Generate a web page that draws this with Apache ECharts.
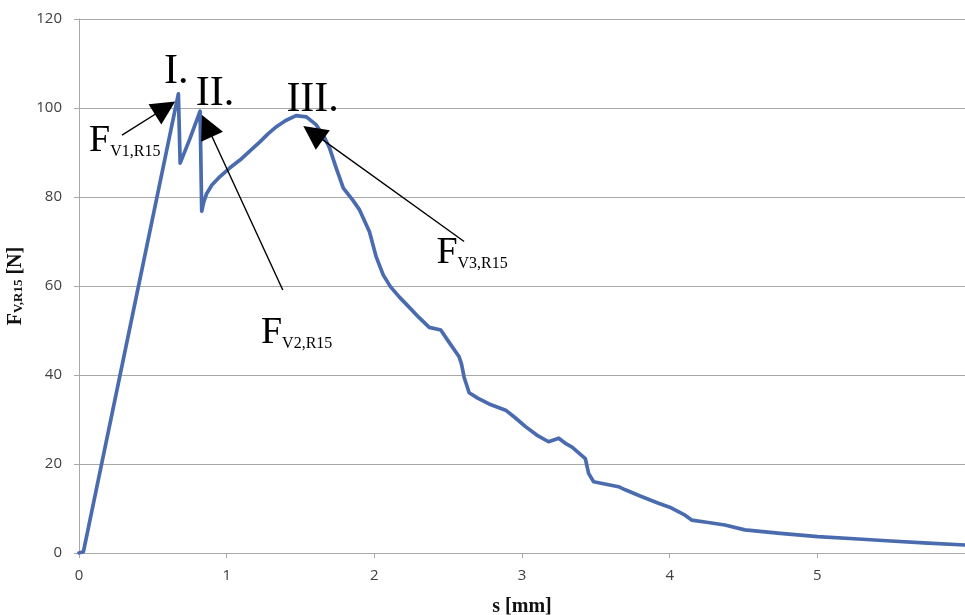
<!DOCTYPE html>
<html>
<head>
<meta charset="utf-8">
<title>F-s curve</title>
<script src="https://cdn.jsdelivr.net/npm/echarts@6/dist/echarts.min.js"></script>
<style>
  html, body { margin: 0; padding: 0; background: #ffffff; overflow: hidden; }
  #chart { width: 965px; height: 615px; }
</style>
</head>
<body>
<div id="chart"></div>
<script>
// Displacement s [mm] and force F [N] of the measured curve
const sValues = [
  0, 0.03, 0.673, 0.685, 0.75, 0.82, 0.831, 0.845, 0.865, 0.90, 0.955, 1.02, 1.09, 1.16,
  1.225, 1.28, 1.337, 1.40, 1.47, 1.54, 1.607, 1.66, 1.697, 1.742, 1.79, 1.854, 1.9,
  1.967, 2.012, 2.06, 2.11, 2.17, 2.237, 2.30, 2.372, 2.45, 2.495, 2.574, 2.59, 2.608,
  2.642, 2.70, 2.777, 2.889, 2.95, 3.024, 3.10, 3.18, 3.249, 3.30, 3.339, 3.429, 3.451,
  3.485, 3.654, 3.699, 3.8, 3.924, 4.0, 4.104, 4.149, 4.25, 4.374, 4.509, 4.75, 5.003,
  5.25, 5.498, 5.75, 6.0
];
const forceValues = [
  0, 0.3, 103.2, 87.6, 93.0, 99.3, 76.8, 78.9, 80.8, 82.7, 84.6, 86.5, 88.3, 90.4,
  92.4, 94.2, 95.8, 97.2, 98.3, 98.0, 96.2, 93.5, 91.0, 86.5, 82.0, 79.3, 77.1,
  72.2, 66.6, 62.5, 59.8, 57.5, 55.2, 53.0, 50.7, 50.1, 47.9, 44.1, 42.5, 39.5,
  36.0, 34.8, 33.5, 32.1, 30.5, 28.4, 26.5, 25.0, 25.8, 24.5, 23.8, 21.2, 17.9,
  16.0, 14.9, 14.2, 12.8, 11.2, 10.3, 8.5, 7.4, 6.9, 6.3, 5.2, 4.4, 3.7,
  3.2, 2.7, 2.2, 1.8
];

// Axis ranges and ticks
const xTicks = [0, 1, 2, 3, 4, 5, 6];
const yTicks = [0, 20, 40, 60, 80, 100, 120];

// Peak markers (label text and its anchor in data units)
const peakNames = ['I.', 'II.', 'III.'];
const peakAnchors = [[0.659, 108.1], [0.921, 103.1], [1.582, 101.8]];

// Force labels and the arrows from them to the peaks
const forceSubs = ['V1,R15', 'V2,R15', 'V3,R15'];
const forceAnchors = [[0.31, 92.8], [1.474, 49.7], [2.662, 67.6]];
const arrowTails = [[0.291, 93.9], [1.38, 59.1], [2.608, 70.0]];
const arrowHeads = [[0.583, 100.0], [0.867, 96.0], [1.585, 94.4]];

const curve = sValues.map((s, i) => [s, forceValues[i]]);

const serif = '"Liberation Serif", "DejaVu Serif", serif';
const sans = '"Open Sans", "Liberation Sans", sans-serif';
const gridColor = '#a8a8a8';

const chart = echarts.init(document.getElementById('chart'), null, { renderer: 'canvas' });

chart.setOption({
  animation: false,
  backgroundColor: '#ffffff',
  grid: { left: 79, right: 0, top: 19, bottom: 62, containLabel: false, outerBoundsMode: 'none' },
  xAxis: {
    type: 'value',
    min: xTicks[0],
    max: xTicks[xTicks.length - 1],
    interval: 1,
    name: 's [mm]',
    nameLocation: 'middle',
    nameGap: 44,
    nameTextStyle: { fontFamily: serif, fontWeight: 'bold', fontSize: 20, color: '#111' },
    axisLine: { show: true, lineStyle: { color: gridColor, width: 1 } },
    axisTick: { show: true, length: 5, inside: false, lineStyle: { color: gridColor } },
    axisLabel: {
      margin: 15,
      fontFamily: sans,
      fontSize: 15,
      color: '#404040',
      formatter: v => (v === xTicks[xTicks.length - 1] ? '' : String(v))
    },
    splitLine: { show: false }
  },
  yAxis: {
    type: 'value',
    min: yTicks[0],
    max: yTicks[yTicks.length - 1],
    interval: 20,
    name: '{F|F}{sub|V,R15}{N| [N]}',
    nameLocation: 'middle',
    nameRotate: 90,
    nameGap: 49,
    nameTextStyle: {
      rich: {
        F: { fontFamily: serif, fontWeight: 'bold', fontSize: 20, color: '#111', verticalAlign: 'bottom', lineHeight: 22 },
        sub: { fontFamily: serif, fontWeight: 'bold', fontSize: 13, color: '#111', verticalAlign: 'bottom', lineHeight: 18 },
        N: { fontFamily: serif, fontWeight: 'bold', fontSize: 20, color: '#111', verticalAlign: 'bottom', lineHeight: 22 }
      }
    },
    axisLine: { show: true, lineStyle: { color: gridColor, width: 1 } },
    axisTick: { show: true, length: 5, inside: false, lineStyle: { color: gridColor } },
    axisLabel: { margin: 17, fontFamily: sans, fontSize: 15, color: '#404040' },
    splitLine: { show: true, lineStyle: { color: gridColor, width: 1 } }
  },
  series: [
    {
      type: 'line',
      data: curve,
      showSymbol: false,
      smooth: false,
      silent: true,
      lineStyle: { color: '#4a6cae', width: 3.7, join: 'round', cap: 'round' },
      markLine: {
        silent: true,
        animation: false,
        symbol: ['none', 'triangle'],
        symbolSize: 24,
        label: { show: false },
        emphasis: { disabled: true },
        itemStyle: { color: '#000000' },
        lineStyle: { color: '#000000', width: 1.4, type: 'solid' },
        data: arrowTails.map((t, i) => [{ coord: t }, { coord: arrowHeads[i] }])
      },
      markPoint: {
        silent: true,
        animation: false,
        symbol: 'circle',
        symbolSize: 0,
        itemStyle: { color: 'rgba(0,0,0,0)' },
        data: [
          ...peakNames.map((n, i) => ({
            coord: peakAnchors[i],
            label: {
              show: true,
              position: 'inside',
              formatter: n,
              fontFamily: serif,
              fontSize: 42,
              color: '#000'
            }
          })),
          ...forceSubs.map((sub, i) => ({
            coord: forceAnchors[i],
            label: {
              show: true,
              position: 'inside',
              formatter: '{F|F}{s|' + sub + '}',
              rich: {
                F: { fontFamily: serif, fontSize: 38, color: '#000', verticalAlign: 'bottom', lineHeight: 40 },
                s: { fontFamily: serif, fontSize: 16, color: '#000', verticalAlign: 'bottom', lineHeight: 14 }
              }
            }
          }))
        ]
      }
    }
  ]
});
</script>
</body>
</html>
